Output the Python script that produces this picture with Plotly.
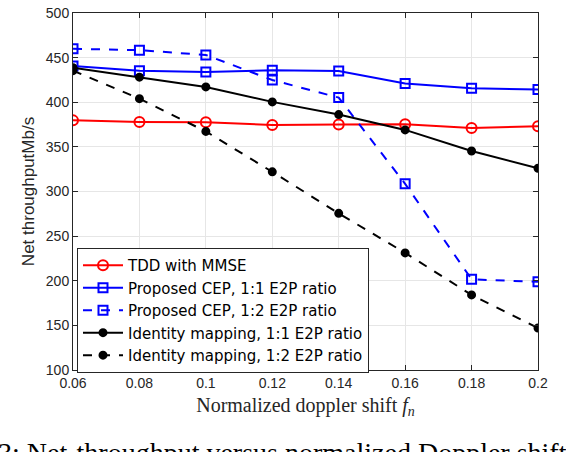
import plotly.graph_objects as go

# doppler shift values (x axis)
doppler = [0.06, 0.08, 0.1, 0.12, 0.14, 0.16, 0.18, 0.2]
doppler_labels = ["0.06", "0.08", "0.1", "0.12", "0.14", "0.16", "0.18", "0.2"]

# net throughput in Mb/s
tdd_mmse = [379.7, 377.8, 377.5, 374.5, 375.0, 375.3, 371.2, 373.0]
cep_11 = [440.6, 435.4, 434.0, 435.8, 435.0, 420.9, 415.8, 414.3]
cep_12 = [459.9, 458.4, 453.0, 424.9, 405.2, 308.6, 201.6, 198.8]
ident_11 = [438.7, 428.1, 417.2, 400.4, 386.2, 369.0, 345.4, 326.0]
ident_12 = [435.4, 404.0, 367.3, 322.0, 275.5, 231.2, 184.1, 147.0]

y_ticks = [100, 150, 200, 250, 300, 350, 400, 450, 500]

fig = go.Figure()

# (name, values, colour, dash, marker symbol, marker size)
series = [
    ("TDD with MMSE", tdd_mmse, "#ff0000", "solid", "circle-open", 10),
    ("Proposed CEP, 1:1 E2P ratio", cep_11, "#0000ff", "solid", "square-open", 9),
    ("Proposed CEP, 1:2 E2P ratio", cep_12, "#0000ff", "dash", "square-open", 9),
    ("Identity mapping, 1:1 E2P ratio", ident_11, "#000000", "solid", "circle", 7),
    ("Identity mapping, 1:2 E2P ratio", ident_12, "#000000", "dash", "circle", 7),
]

for name, vals, color, dash, symbol, size in series:
    fig.add_trace(go.Scatter(
        x=doppler, y=vals, name=name, mode="lines+markers",
        line=dict(color=color, width=2, dash=dash),
        marker=dict(symbol=symbol, size=size, color=color,
                    line=dict(color=color, width=2)),
    ))

axis_common = dict(
    showline=True, linecolor="#262626", linewidth=1, mirror="ticks",
    ticks="inside", ticklen=5, tickcolor="#262626",
    showgrid=True, gridcolor="#e6e6e6", gridwidth=1, zeroline=False,
    ticklabeloverflow="allow",
    tickfont=dict(family="Liberation Sans, Arial", size=14, color="#262626"),
)

fig.update_xaxes(
    range=[0.06, 0.2], tickvals=doppler, ticktext=doppler_labels,
    title=dict(text="Normalized doppler shift <i>f<sub>n</sub></i>",
               font=dict(family="Liberation Serif, Times New Roman", size=20, color="#262626"),
               standoff=8),
    **axis_common,
)
fig.update_yaxes(
    range=[100, 500], tickvals=y_ticks,
    title=dict(text="Net throughputMb/s",
               font=dict(family="Liberation Sans, Arial", size=17, color="#262626"),
               standoff=6),
    **axis_common,
)

fig.update_layout(
    width=566, height=452,
    margin=dict(l=73, r=28, t=5, b=82),
    paper_bgcolor="white", plot_bgcolor="white",
    showlegend=True,
    legend=dict(
        x=0.0086, y=0.342, xanchor="left", yanchor="top",
        bgcolor="white", bordercolor="#262626", borderwidth=1,
        font=dict(family="DejaVu Sans, Liberation Sans", size=15, color="#000000"),
        tracegroupgap=0, itemwidth=40,
    ),
)

# clipped figure caption under the chart
fig.add_annotation(
    text="3: Net-throughput versus normalized Doppler shift",
    xref="paper", yref="paper", x=-0.166, y=-0.183, xanchor="left", yanchor="top",
    showarrow=False,
    font=dict(family="Liberation Serif, Times New Roman", size=28, color="#000000"),
)

# drop the default page margin so the figure sits at the window corner
fig.write_html("out.html", config={"displayModeBar": False},
               post_script="document.body.style.margin='0';")
